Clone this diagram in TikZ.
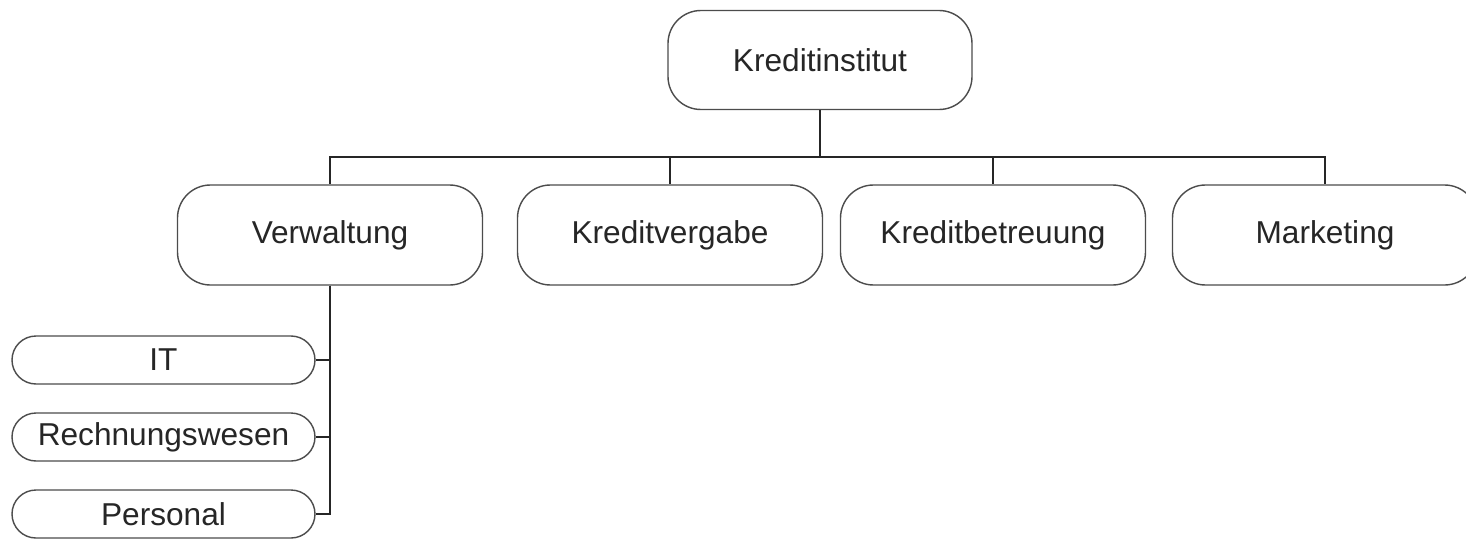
\documentclass[tikz,border=0pt]{standalone}
\usepackage{fontspec}
\setmainfont{Liberation Sans}
\usetikzlibrary{positioning}

\begin{document}
\begin{tikzpicture}[draw=black!85, line width=0.9pt]
    \tikzstyle{unit}=[rectangle, rounded corners=0.66cm, draw=black!70, line width=0.8pt, fill=white,
        minimum width=6.1cm, minimum height=2cm, inner sep=0pt, text=black!85,
        font=\fontsize{18}{21}\selectfont]
    \tikzstyle{top unit}=[unit, minimum width=6.08cm, minimum height=1.98cm]
    \tikzstyle{sub unit}=[unit, rounded corners=0.48cm, minimum width=6.06cm, minimum height=0.96cm]

    \useasboundingbox (0,0) rectangle (29.32,-10.82);

    \node[top unit] (K) at (16.4,-1.2) {Kreditinstitut};

    \node[unit] (V) at (6.6,-4.7) {Verwaltung};
    \node[unit] (KV) at (13.4,-4.7) {Kreditvergabe};
    \node[unit] (KB) at (19.86,-4.7) {Kreditbetreuung};
    \node[unit] (M) at (26.5,-4.7) {Marketing};

    \node[sub unit] (IT) at (3.27,-7.2) {IT};
    \node[sub unit] (RW) at (3.27,-8.74) {Rechnungswesen};
    \node[sub unit] (P) at (3.27,-10.28) {Personal};

    \coordinate (bus) at (16.4,-3.14);
    \draw (K.south) -- (bus);
    \foreach \n in {V, KV, KB, M}
        \draw (bus) -| (\n.north);

    \foreach \n in {IT, RW, P}
        \draw (V.south) |- (\n.east);
\end{tikzpicture}
\end{document}
